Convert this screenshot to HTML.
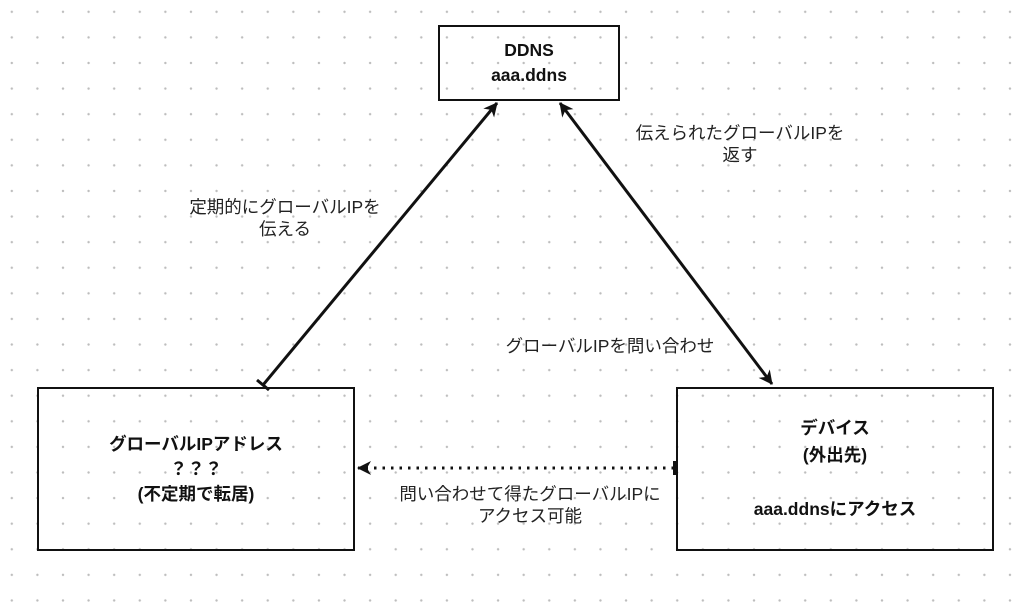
<!DOCTYPE html>
<html><head><meta charset="utf-8"><style>
body{margin:0;width:1024px;height:609px;overflow:hidden;background:#fff;
background-image:radial-gradient(circle,#bdbdbd 1px,transparent 1.4px);background-size:25.6px 25.6px;background-position:-1px -1px;
font-family:"Liberation Sans","Noto Sans CJK JP",sans-serif;position:relative;color:#111}
.box{position:absolute;border:2px solid #111;box-sizing:border-box;display:flex;align-items:center;justify-content:center;text-align:center;font-weight:bold;font-size:17.5px;line-height:25px}
.lbl{position:absolute;text-align:center;font-size:17.5px;line-height:22px;color:#222}
svg{position:absolute;left:0;top:0}
</style></head><body>
<svg width="1024" height="609">
<defs><marker id="a" markerWidth="16" markerHeight="16" refX="13" refY="7" orient="auto" markerUnits="userSpaceOnUse"><path d="M0,0 L14,7 L0,14 L4,7z" fill="#111"/></marker>
<marker id="b" markerWidth="16" markerHeight="16" refX="1" refY="7" orient="auto" markerUnits="userSpaceOnUse"><path d="M14,0 L0,7 L14,14 L10,7z" fill="#111"/></marker></defs>
<line x1="263" y1="385" x2="497" y2="103" stroke="#111" stroke-width="3" marker-end="url(#a)"/>
<line x1="257" y1="380" x2="269" y2="390" stroke="#111" stroke-width="3"/>
<line x1="560" y1="103" x2="772" y2="384" stroke="#111" stroke-width="3" marker-end="url(#a)" marker-start="url(#b)"/>
<line x1="674" y1="468" x2="358" y2="468" stroke="#111" stroke-width="3" stroke-dasharray="2.5 6" marker-end="url(#a)"/>
<line x1="675" y1="461" x2="675" y2="475" stroke="#111" stroke-width="4"/>
</svg>
<div class="box" style="left:438px;top:25px;width:182px;height:76px">DDNS<br>aaa.ddns</div>
<div class="box" style="left:37px;top:387px;width:318px;height:164px">グローバルIPアドレス<br>？？？<br>(不定期で転居)</div>
<div class="box" style="left:676px;top:387px;width:318px;height:164px;line-height:27px">デバイス<br>(外出先)<br><br>aaa.ddnsにアクセス</div>
<div class="lbl" style="left:150px;top:196px;width:270px">定期的にグローバルIPを<br>伝える</div>
<div class="lbl" style="left:605px;top:122px;width:270px">伝えられたグローバルIPを<br>返す</div>
<div class="lbl" style="left:470px;top:335px;width:280px">グローバルIPを問い合わせ</div>
<div class="lbl" style="left:350px;top:483px;width:360px">問い合わせて得たグローバルIPに<br>アクセス可能</div>
</body></html>
